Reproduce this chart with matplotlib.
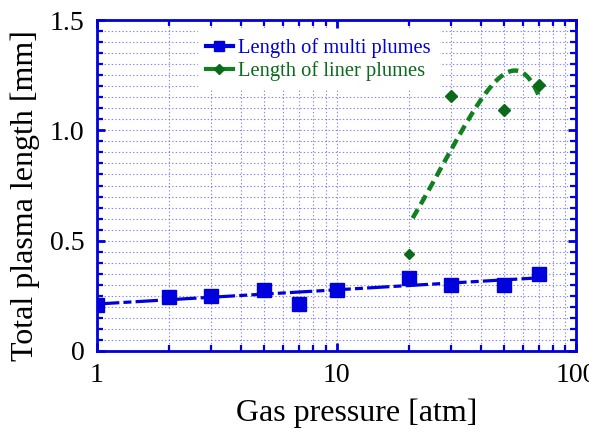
import numpy as np
import matplotlib
matplotlib.use("Agg")
import matplotlib.pyplot as plt
from matplotlib.ticker import FixedLocator, LogLocator, NullFormatter, FixedFormatter

# ---- data ----
multi_x = [1, 2, 3, 5, 7, 10, 20, 30, 50, 70]
multi_y = [0.21, 0.245, 0.25, 0.275, 0.215, 0.275, 0.33, 0.30, 0.30, 0.35]
liner_x = [20, 30, 50, 70]
liner_y = [0.44, 1.155, 1.09, 1.205]
y_ticks = [0, 0.5, 1.0, 1.5]
y_ticklabels = ["0", "0.5", "1.0", "1.5"]
x_ticks = [1, 10, 100]
x_ticklabels = ["1", "10", "100"]

BLUE = "#0000dd"
GREEN = "#0a6a1a"
GREEN_LINE = "#12801f"

plt.rcParams['font.family'] = ['Liberation Serif', 'DejaVu Serif']

fig = plt.figure(figsize=(5.89, 4.32), dpi=100)
ax = fig.add_axes([97/589, 1-351/432, (576-97)/589, (351-20)/432])

ax.set_xscale('log')
ax.set_xlim(1, 100)
ax.set_ylim(0, 1.5)

# ticks & grid
ax.yaxis.set_major_locator(FixedLocator(y_ticks))
ax.yaxis.set_minor_locator(FixedLocator(np.arange(0, 1.5001, 0.05)))
ax.yaxis.set_major_formatter(FixedFormatter(y_ticklabels))
ax.xaxis.set_major_locator(FixedLocator(x_ticks))
ax.xaxis.set_minor_locator(LogLocator(base=10, subs=np.arange(2, 10), numticks=20))
ax.xaxis.set_major_formatter(FixedFormatter(x_ticklabels))
ax.xaxis.set_minor_formatter(NullFormatter())
ax.grid(True, which='both', color=(0.35, 0.35, 1.0), alpha=0.75, linestyle=(0, (1.2, 2.0)), linewidth=0.8)
ax.set_axisbelow(True)

# fits computed from the data
lx = np.log10(multi_x)
p1 = np.polyfit(lx, multi_y, 1)
fx = np.logspace(0, np.log10(75), 100)
ax.plot(fx, np.polyval(p1, np.log10(fx)), color=BLUE, lw=2.3,
        dashes=(7, 1.3, 2.5, 1.3), zorder=3)

p2 = np.polyfit(liner_x, liner_y, 2)
gx = np.linspace(min(liner_x) + 0.8, max(liner_x), 200)
ax.plot(gx, np.polyval(p2, gx), color=GREEN_LINE, lw=3.2, dashes=(2.3, 1.3), zorder=3)

# markers
ax.plot(multi_x, multi_y, linestyle='none', marker='s', markersize=9.5, color=BLUE, zorder=4)
ax.plot(liner_x[:1], liner_y[:1], linestyle='none', marker='D', markersize=4.6, color=GREEN, zorder=4)
ax.plot(liner_x[1:], liner_y[1:], linestyle='none', marker='D', markersize=6.3, color=GREEN, zorder=4)

# legend handles
h1, = ax.plot([], [], color=BLUE, lw=3, marker='s', markersize=7.5)
h2, = ax.plot([], [], color=GREEN_LINE, lw=3, marker='D', markersize=5.5, markerfacecolor=GREEN, markeredgecolor=GREEN)
leg = ax.legend([h1, h2], ["Length of multi plumes", "Length of liner plumes"],
                loc='upper left', bbox_to_anchor=(0.21, 0.97), frameon=True, fancybox=False,
                edgecolor='white', framealpha=1, fontsize=14.8, handlelength=1.3,
                handletextpad=0.25, borderpad=0.4, labelspacing=0.15, borderaxespad=0.0)
leg.get_texts()[0].set_color(BLUE)
leg.get_texts()[1].set_color(GREEN)
leg.set_zorder(3.5)

# spines & ticks
for s in ax.spines.values():
    s.set_color(BLUE)
    s.set_linewidth(2.0)
ax.tick_params(which='both', direction='in', color=BLUE, top=True, right=True)
ax.tick_params(which='major', length=6, width=2.0, labelsize=20, pad=9, labelcolor='black')
ax.tick_params(which='minor', length=4, width=1.6)
ax.tick_params(axis='x', which='major', pad=9)

ax.set_xlabel("Gas pressure [atm]", fontsize=23)
ax.set_ylabel("Total plasma length [mm]", fontsize=23)
ax.xaxis.set_label_coords(0.543, -0.145)
ax.yaxis.set_label_coords(-0.12, 0.47)

fig.savefig("out.png", dpi=100)
